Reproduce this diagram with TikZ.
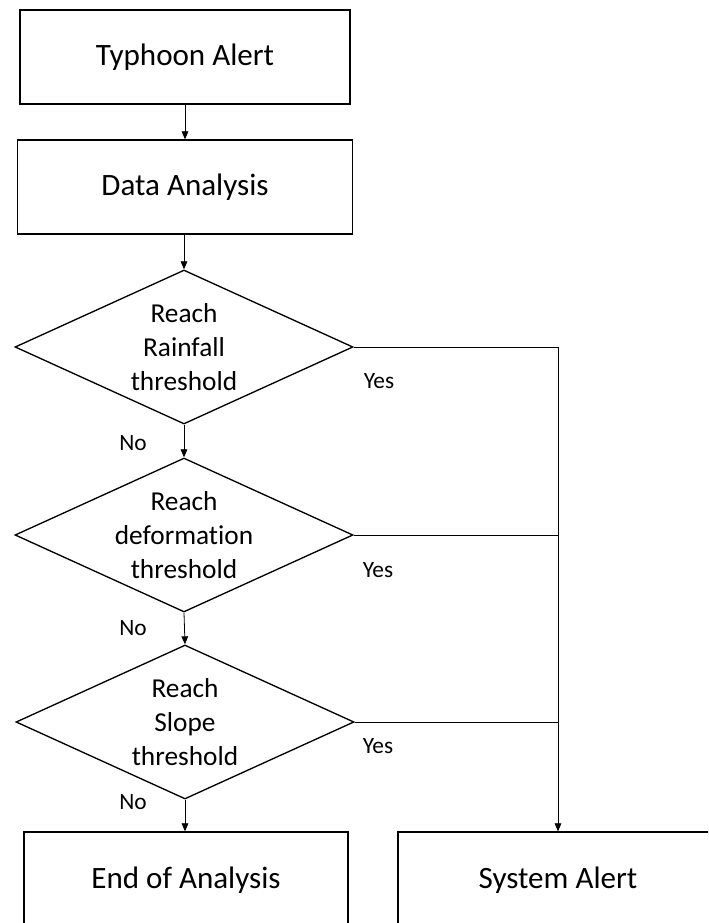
\documentclass[tikz,border=0pt]{standalone}
\usepackage{fontspec}
\setmainfont[Ligatures=NoCommon]{Carlito}
\usetikzlibrary{shapes.geometric,arrows.meta}
\begin{document}
\begin{tikzpicture}[x=0.75pt,y=-0.75pt,
  boxnode/.style={draw,line width=1pt,inner sep=0,minimum width=#1*0.75pt,minimum height=94*0.75pt,font=\fontsize{23.3}{27}\selectfont},
  dnode/.style={draw,diamond,line width=1pt,inner sep=0,minimum width=338*0.75pt,minimum height=154*0.75pt},
  dtext/.style={align=center,inner sep=0,font=\fontsize{20.5}{25.5}\selectfont},
  lbl/.style={inner sep=0,font=\fontsize{17.5}{20}\selectfont},
  conn/.style={line width=0.6pt},
  arr/.style={conn,-{Triangle[length=6pt,width=5pt]}}]
\useasboundingbox (0,0) rectangle (708,923);
\clip (0,0) rectangle (708,923);
\node[boxnode=330] (typhoon) at (185,57) {Typhoon Alert};
\node[boxnode=335] (data) at (185,187) {Data Analysis};
\node[dnode] (d1) at (184,347) {};
\node[dtext] (t1) at (d1) {Reach\\Rainfall\\threshold};
\node[dnode] (d2) at (184,535) {};
\node[dtext] (t2) at (d2) {Reach\\deformation\\threshold};
\node[dnode] (d3) at (185,722) {};
\node[dtext] (t3) at (d3) {Reach\\Slope\\threshold};
\node[boxnode=324,minimum height=96*0.75pt] (endbox) at (186,880) {End of Analysis};
\node[boxnode=320,minimum height=96*0.75pt] (sys) at (558,880) {System Alert};
\coordinate (corner) at (558,347);
\draw[arr] (typhoon.south) -- (typhoon.south |- data.north);
\draw[arr] (data.south -| d1.north) -- (d1.north);
\draw[arr] (d1.south) -- (d2.north);
\draw[arr] (d2.south) -- (d3.north);
\draw[arr] (d3.south) -- (d3.south |- endbox.north);
\draw[conn] (d1.east) -- (corner);
\draw[arr] (corner) -- (sys.north);
\draw[conn] (d2.east) -- (d2.east -| corner);
\draw[conn] (d3.east) -- (d3.east -| corner);
\node[lbl] (y1) at (379,381) {Yes};
\node[lbl] (y2) at (378,570) {Yes};
\node[lbl] (y3) at (378,746) {Yes};
\node[lbl] (n1) at (133,443) {No};
\node[lbl] (n2) at (133,628) {No};
\node[lbl] (n3) at (133,802) {No};
\end{tikzpicture}
\end{document}
